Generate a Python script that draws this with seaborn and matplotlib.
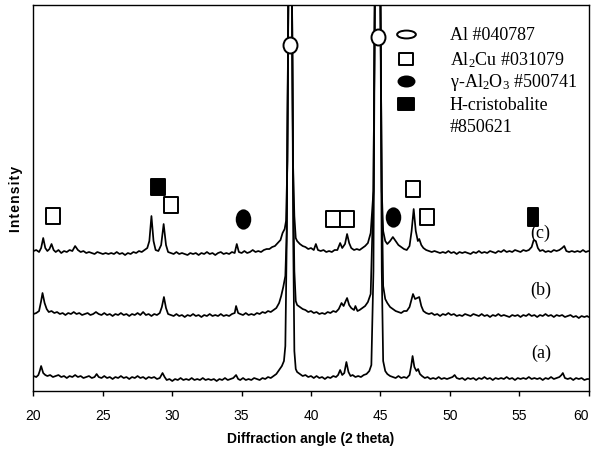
import numpy as np
import matplotlib
matplotlib.use("Agg")
import matplotlib.pyplot as plt
from matplotlib.path import Path
from matplotlib.transforms import Affine2D
from matplotlib import font_manager
import seaborn as sns

# XRD traces (2 theta, intensity in arbitrary units, already offset)
trace_c = [(20.0, 140), (20.2, 141), (20.4, 139), (20.55, 143), (20.7, 153), (20.85, 143), (21.0, 140), (21.15, 142),
           (21.3, 147), (21.45, 141), (21.6, 139), (21.8, 141), (22.0, 138), (22.2, 140), (22.4, 139), (22.6, 141),
           (22.8, 140), (23.0, 145), (23.2, 141), (23.4, 139), (23.6, 140), (23.8, 138), (24.0, 139), (24.2, 138),
           (24.4, 137), (24.6, 139), (24.8, 138), (25.0, 137), (25.2, 138), (25.4, 137), (25.6, 138), (25.8, 137),
           (26.0, 139), (26.2, 137), (26.4, 138), (26.6, 136), (26.8, 138), (27.0, 137), (27.2, 139), (27.4, 138),
           (27.6, 140), (27.8, 139), (28.0, 141), (28.2, 143), (28.35, 150), (28.5, 175), (28.65, 150), (28.8, 141),
           (29.0, 140), (29.2, 146), (29.38, 167), (29.55, 146), (29.7, 139), (29.9, 138), (30.1, 137), (30.3, 139),
           (30.5, 137), (30.7, 138), (30.9, 137), (31.1, 136), (31.3, 138), (31.5, 137), (31.7, 138), (31.9, 136),
           (32.1, 138), (32.3, 137), (32.5, 139), (32.7, 137), (32.9, 138), (33.1, 136), (33.3, 138), (33.5, 139),
           (33.7, 137), (33.9, 138), (34.1, 137), (34.3, 139), (34.5, 138), (34.65, 147), (34.8, 139), (35.0, 138),
           (35.2, 140), (35.4, 138), (35.6, 139), (35.8, 141), (36.0, 139), (36.2, 140), (36.4, 139), (36.6, 141),
           (36.8, 142), (37.0, 142), (37.2, 144), (37.4, 145), (37.6, 148), (37.8, 151), (37.95, 158), (38.1, 162),
           (38.2, 170), (38.3, 230), (38.37, 400), (38.5, 900), (38.63, 400), (38.7, 230), (38.8, 175), (38.9, 153),
           (39.0, 150), (39.2, 147), (39.4, 145), (39.6, 144), (39.8, 142), (40.0, 143), (40.2, 141), (40.35, 147),
           (40.5, 141), (40.7, 140), (40.9, 141), (41.1, 139), (41.3, 140), (41.5, 139), (41.7, 141), (41.9, 141),
           (42.1, 148), (42.25, 143), (42.45, 147), (42.6, 157), (42.75, 148), (42.9, 143), (43.1, 141), (43.3, 142),
           (43.5, 141), (43.7, 143), (43.9, 145), (44.1, 148), (44.3, 158), (44.5, 200), (44.6, 400), (44.8, 900),
           (45.0, 400), (45.1, 200), (45.2, 160), (45.35, 150), (45.5, 147), (45.7, 150), (45.9, 154), (46.1, 150),
           (46.3, 146), (46.5, 144), (46.7, 142), (46.9, 141), (47.1, 145), (47.25, 160), (47.4, 182), (47.55, 160),
           (47.7, 150), (47.8, 152), (47.95, 146), (48.1, 143), (48.3, 141), (48.5, 140), (48.7, 139), (48.9, 140),
           (49.1, 139), (49.3, 138), (49.5, 139), (49.7, 138), (49.9, 140), (50.1, 138), (50.3, 139), (50.5, 137),
           (50.7, 139), (50.9, 138), (51.1, 139), (51.3, 138), (51.5, 137), (51.7, 139), (51.9, 138), (52.1, 140),
           (52.3, 138), (52.5, 139), (52.7, 138), (52.9, 140), (53.1, 139), (53.3, 138), (53.5, 140), (53.7, 139),
           (53.9, 141), (54.1, 139), (54.3, 140), (54.5, 139), (54.7, 141), (54.9, 140), (55.1, 139), (55.3, 141),
           (55.5, 140), (55.7, 141), (55.9, 144), (56.05, 151), (56.2, 150), (56.35, 143), (56.5, 140), (56.7, 141),
           (56.9, 139), (57.1, 140), (57.3, 139), (57.5, 141), (57.7, 140), (57.9, 141), (58.1, 143), (58.25, 145),
           (58.4, 140), (58.6, 139), (58.8, 140), (59.0, 139), (59.2, 140), (59.4, 139), (59.6, 141), (59.8, 139),
           (60.0, 140)]

trace_b = [(20.0, 77), (20.2, 78), (20.4, 80), (20.55, 90), (20.65, 98), (20.8, 88), (20.95, 82), (21.1, 79),
           (21.3, 80), (21.5, 78), (21.7, 79), (21.9, 77), (22.1, 78), (22.3, 76), (22.5, 78), (22.7, 77),
           (22.9, 79), (23.1, 77), (23.3, 78), (23.5, 76), (23.7, 77), (23.9, 78), (24.1, 76), (24.3, 77),
           (24.5, 79), (24.7, 77), (24.9, 76), (25.1, 78), (25.3, 76), (25.5, 77), (25.7, 75), (25.9, 77),
           (26.1, 76), (26.3, 78), (26.5, 76), (26.7, 77), (26.9, 75), (27.1, 77), (27.3, 76), (27.5, 78),
           (27.7, 76), (27.9, 79), (28.1, 76), (28.3, 77), (28.5, 75), (28.7, 77), (28.9, 76), (29.1, 78),
           (29.25, 84), (29.4, 94), (29.55, 83), (29.7, 77), (29.9, 76), (30.1, 75), (30.3, 77), (30.5, 75),
           (30.7, 76), (30.9, 74), (31.1, 76), (31.3, 75), (31.5, 77), (31.7, 75), (31.9, 76), (32.1, 74),
           (32.3, 76), (32.5, 75), (32.7, 77), (32.9, 75), (33.1, 76), (33.3, 75), (33.5, 77), (33.7, 75),
           (33.9, 76), (34.1, 75), (34.3, 77), (34.5, 78), (34.6, 85), (34.75, 78), (34.9, 77), (35.1, 76),
           (35.3, 78), (35.5, 76), (35.7, 77), (35.9, 76), (36.1, 78), (36.3, 77), (36.5, 79), (36.7, 78),
           (36.9, 80), (37.1, 79), (37.3, 81), (37.5, 83), (37.7, 88), (37.85, 95), (38.0, 104), (38.15, 115),
           (38.25, 160), (38.37, 400), (38.5, 900), (38.63, 400), (38.72, 200), (38.8, 120), (38.9, 90), (39.0, 86),
           (39.2, 84), (39.4, 82), (39.6, 81), (39.8, 79), (40.0, 80), (40.2, 78), (40.4, 79), (40.6, 77),
           (40.8, 78), (41.0, 77), (41.2, 79), (41.4, 78), (41.6, 80), (41.8, 79), (42.0, 82), (42.2, 88),
           (42.35, 85), (42.5, 90), (42.6, 93), (42.75, 86), (42.9, 83), (43.1, 81), (43.2, 85), (43.35, 80),
           (43.5, 81), (43.7, 83), (43.9, 85), (44.1, 89), (44.3, 97), (44.5, 200), (44.6, 400), (44.8, 900),
           (45.0, 400), (45.1, 200), (45.2, 105), (45.35, 92), (45.5, 88), (45.7, 84), (45.9, 82), (46.1, 80),
           (46.3, 79), (46.5, 78), (46.7, 80), (46.9, 80), (47.1, 84), (47.25, 92), (47.35, 97), (47.5, 92),
           (47.65, 93), (47.8, 94), (47.95, 85), (48.1, 80), (48.3, 78), (48.5, 77), (48.7, 78), (48.9, 76),
           (49.1, 77), (49.3, 75), (49.5, 77), (49.7, 76), (49.9, 78), (50.1, 76), (50.3, 77), (50.5, 75),
           (50.7, 76), (50.9, 75), (51.1, 77), (51.3, 76), (51.5, 75), (51.7, 77), (51.9, 76), (52.1, 75),
           (52.3, 77), (52.5, 75), (52.7, 76), (52.9, 74), (53.1, 76), (53.3, 75), (53.5, 77), (53.7, 75),
           (53.9, 76), (54.1, 75), (54.3, 74), (54.5, 76), (54.7, 75), (54.9, 76), (55.1, 74), (55.3, 76),
           (55.5, 75), (55.7, 77), (55.9, 75), (56.1, 76), (56.3, 74), (56.5, 76), (56.7, 75), (56.9, 77),
           (57.1, 75), (57.3, 76), (57.5, 74), (57.7, 76), (57.9, 75), (58.1, 76), (58.3, 74), (58.5, 75),
           (58.7, 76), (58.9, 74), (59.1, 75), (59.3, 73), (59.5, 75), (59.7, 74), (59.9, 75), (60.0, 74)]

trace_a = [(20.0, 15), (20.2, 14), (20.35, 16), (20.45, 20), (20.55, 25), (20.7, 18), (20.85, 16), (21.0, 15),
           (21.2, 16), (21.4, 14), (21.6, 15), (21.8, 16), (22.0, 14), (22.2, 15), (22.4, 13), (22.6, 15),
           (22.8, 14), (23.0, 16), (23.2, 14), (23.4, 15), (23.6, 13), (23.8, 14), (24.0, 15), (24.2, 13),
           (24.4, 14), (24.55, 17), (24.7, 14), (24.9, 13), (25.1, 15), (25.3, 13), (25.5, 14), (25.7, 12),
           (25.9, 14), (26.1, 13), (26.3, 15), (26.5, 13), (26.7, 14), (26.9, 12), (27.1, 14), (27.3, 13),
           (27.5, 15), (27.7, 13), (27.9, 14), (28.1, 12), (28.3, 14), (28.5, 13), (28.7, 14), (28.9, 12),
           (29.1, 13), (29.3, 18), (29.45, 14), (29.6, 11), (29.8, 12), (30.0, 10), (30.2, 12), (30.4, 11),
           (30.6, 13), (30.8, 11), (31.0, 12), (31.2, 11), (31.4, 13), (31.6, 11), (31.8, 12), (32.0, 11),
           (32.2, 13), (32.4, 11), (32.6, 12), (32.8, 11), (33.0, 12), (33.2, 10), (33.4, 12), (33.6, 11),
           (33.8, 13), (34.0, 11), (34.2, 12), (34.4, 13), (34.6, 16), (34.75, 12), (34.9, 11), (35.1, 13),
           (35.3, 11), (35.5, 12), (35.7, 11), (35.9, 13), (36.1, 12), (36.3, 11), (36.5, 13), (36.7, 12),
           (36.9, 14), (37.1, 13), (37.3, 15), (37.5, 17), (37.7, 21), (37.9, 25), (38.05, 30), (38.15, 45),
           (38.25, 150), (38.37, 400), (38.5, 900), (38.63, 400), (38.72, 150), (38.8, 40), (38.9, 22), (39.0, 19),
           (39.2, 17), (39.4, 15), (39.6, 16), (39.8, 14), (40.0, 15), (40.2, 13), (40.4, 15), (40.6, 13),
           (40.8, 14), (41.0, 12), (41.2, 14), (41.4, 13), (41.6, 15), (41.8, 14), (41.95, 16), (42.1, 21),
           (42.25, 16), (42.4, 18), (42.55, 29), (42.7, 19), (42.85, 15), (43.0, 16), (43.2, 14), (43.4, 15),
           (43.6, 14), (43.8, 16), (44.0, 17), (44.2, 20), (44.35, 26), (44.5, 120), (44.6, 400), (44.8, 900),
           (45.0, 400), (45.1, 120), (45.2, 30), (45.35, 20), (45.5, 17), (45.7, 15), (45.9, 14), (46.1, 13),
           (46.3, 15), (46.5, 13), (46.7, 14), (46.9, 13), (47.1, 16), (47.22, 25), (47.32, 35), (47.45, 24),
           (47.6, 20), (47.72, 22), (47.85, 17), (48.0, 15), (48.2, 13), (48.4, 14), (48.6, 12), (48.8, 13),
           (49.0, 12), (49.2, 14), (49.4, 12), (49.6, 13), (49.8, 12), (50.0, 13), (50.2, 14), (50.35, 16),
           (50.5, 13), (50.7, 12), (50.9, 13), (51.1, 11), (51.3, 13), (51.5, 12), (51.7, 13), (51.9, 11),
           (52.1, 13), (52.3, 12), (52.5, 14), (52.7, 12), (52.9, 13), (53.1, 11), (53.3, 13), (53.5, 12),
           (53.7, 13), (53.9, 12), (54.1, 14), (54.3, 12), (54.5, 13), (54.7, 11), (54.9, 13), (55.1, 12),
           (55.3, 13), (55.5, 12), (55.7, 14), (55.9, 12), (56.1, 13), (56.3, 12), (56.5, 13), (56.7, 11),
           (56.9, 13), (57.1, 12), (57.3, 14), (57.5, 12), (57.7, 13), (57.9, 14), (58.05, 16), (58.15, 18),
           (58.3, 13), (58.5, 12), (58.7, 13), (58.9, 11), (59.1, 13), (59.3, 12), (59.5, 13), (59.7, 11),
           (59.9, 12), (60.0, 12)]

# phase markers (2 theta, height)
al_pos = [(38.5, 346), (44.83, 354)]
al2cu_pos = [(21.4, 175), (29.9, 186), (41.6, 172), (42.57, 172), (47.37, 202), (48.38, 174)]
al2o3_pos = [(35.1, 172), (45.93, 174)]
crist_pos = [(28.95, 204)]
crist_bar_pos = [(55.98, 174)]

trace_labels = ["(a)", "(b)", "(c)"]
trace_label_pos = [(55.9, 39), (55.8, 102), (55.8, 159)]

legend_labels = ["Al #040787", "Al$_2$Cu #031079", "\u03b3-Al$_2$O$_3$ #500741", "H-cristobalite", "#850621"]
legend_y = [357, 332, 310, 287, 265]

names = {f.name for f in font_manager.fontManager.ttflist}
tick_font = "Liberation Sans Narrow" if "Liberation Sans Narrow" in names else "Liberation Sans"
serif = "Liberation Serif"

sns.set_theme(style="white")
plt.rcParams["mathtext.fontset"] = "custom"
plt.rcParams["mathtext.rm"] = serif
plt.rcParams["mathtext.it"] = serif
plt.rcParams["text.color"] = "black"


def box(w, h):
    return Path([(-w, -h), (w, -h), (w, h), (-w, h), (-w, -h)],
                [Path.MOVETO, Path.LINETO, Path.LINETO, Path.LINETO, Path.CLOSEPOLY])


def oval(w, h):
    return Path.unit_circle().transformed(Affine2D().scale(w, h))


fig = plt.figure(figsize=(5.95, 4.52), dpi=100)
ax = fig.add_axes([0.0563, 0.1327, 0.9328, 0.854])

for tr in [trace_a, trace_b, trace_c]:
    arr = np.array(tr)
    sns.lineplot(x=arr[:, 0], y=arr[:, 1], color="black", lw=1.25, ax=ax, estimator=None, sort=False)


def put(points, marker, ms, filled, **kw):
    p = np.array(points)
    ax.plot(p[:, 0], p[:, 1], ls="none", marker=marker, ms=ms, mfc="black" if filled else "white",
            mec="black", mew=1.4, zorder=5, clip_on=False, **kw)


put(al_pos, oval(0.875, 1), 11.5, False)
put(al2cu_pos, box(0.875, 1), 11.2, False)
put(al2o3_pos, oval(0.74, 1), 13.2, True)
put(crist_pos, box(0.88, 1), 12.0, True)
put(crist_bar_pos, box(0.61, 1), 12.8, True)

# legend drawn by hand
lx = 46.85
put([(lx, legend_y[0])], oval(1, 0.42), 13.5, False)
put([(lx, legend_y[1])], box(1, 0.87), 10.5, False)
put([(lx, legend_y[2])], oval(1, 0.63), 11.5, True)
put([(lx, legend_y[3])], box(1, 0.81), 11.5, True)
for lab, yy in zip(legend_labels, legend_y):
    ax.text(50.0, yy, lab, fontsize=13, family=serif, va="center", ha="left", color="black")

for lab, (xx, yy) in zip(trace_labels, trace_label_pos):
    ax.text(xx, yy, lab, fontsize=13, family=serif, va="center", ha="left", color="black")

ax.set_xlim(20, 60)
ax.set_ylim(0, 386)
ax.set_xticks(np.arange(20, 61, 5))
ax.set_yticks([])
for s in ax.spines.values():
    s.set_visible(True)
    s.set_color("black")
    s.set_linewidth(1.0)
ax.tick_params(axis="x", bottom=True, direction="out", length=3.5, width=1.0, color="black",
               pad=9, labelsize=10, labelcolor="black")
for t in ax.get_xticklabels():
    t.set_family(tick_font)
ax.get_xticklabels()[-1].set_horizontalalignment("right")
ax.get_xticklabels()[-1].set_x(60)

ax.set_xlabel("Diffraction angle (2 theta)", fontsize=10, fontweight="bold", family="Liberation Sans",
              color="black", labelpad=6)
fig.text(0.027, 0.56, "I\u200an\u200at\u200ae\u200an\u200as\u200ai\u200at\u200ay", rotation=90, fontsize=10,
         fontweight="bold", family=["Liberation Sans", "DejaVu Sans"], va="center", ha="center", color="black")

fig.savefig("out.png", dpi=100)
